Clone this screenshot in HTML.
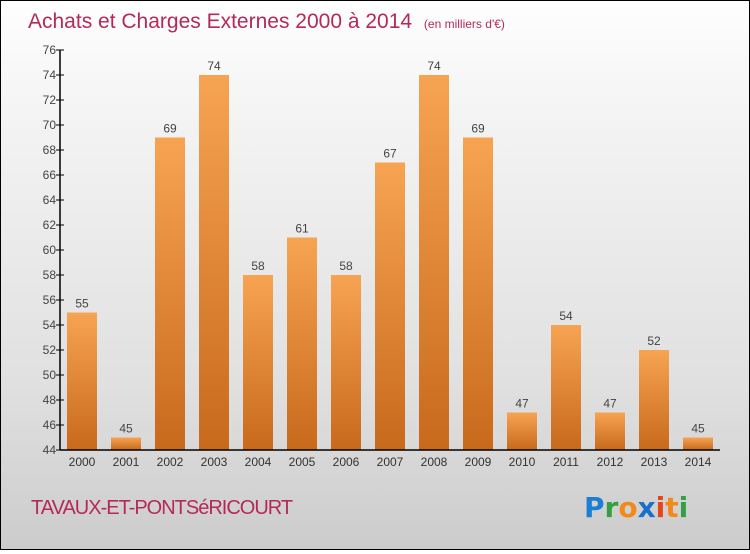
<!DOCTYPE html>
<html><head><meta charset="utf-8"><style>
html,body{margin:0;padding:0}
body{width:750px;height:550px;overflow:hidden;font-family:"Liberation Sans",sans-serif}
#wrap{position:absolute;left:0;top:0;width:748px;height:548px;border:1px solid #000;background:linear-gradient(#fefefe,#f4f4f4 20%,#e0e0e0 70%,#cccccc)}
</style></head><body>
<div id="wrap">
<svg id="svg" width="748" height="548" xmlns="http://www.w3.org/2000/svg">
<defs>
<linearGradient id="bg" x1="0" y1="0" x2="0" y2="1"><stop offset="0" stop-color="#f7a452"/><stop offset="1" stop-color="#c8691c"/></linearGradient>
</defs>
<text x="27" y="27" font-size="21" fill="#b5295a">Achats et Charges Externes 2000 à 2014 <tspan font-size="12" dx="6">(en milliers d'€)</tspan></text>
<g id="plot"></g>
<text x="30" y="513" font-size="20" fill="#b5295a" letter-spacing="-1">TAVAUX-ET-PONTSéRICOURT</text>
<g font-size="28" font-weight="bold" font-family="'DejaVu Sans',sans-serif">
<text x="583" y="516"><tspan fill="#1a7fd4">P</tspan><tspan fill="#33a043">r</tspan><tspan fill="#f28a1a">o</tspan><tspan fill="#1a6fc8">x</tspan><tspan fill="#e8441a">i</tspan><tspan fill="#f28a1a">t</tspan><tspan fill="#33a043">i</tspan></text>
</g>
</svg></div>
<script>
const years=["2000","2001","2002","2003","2004","2005","2006","2007","2008","2009","2010","2011","2012","2013","2014"];
const values=[55,45,69,74,58,61,58,67,74,69,47,54,47,52,45];
const yTicks=[44,46,48,50,52,54,56,58,60,62,64,66,68,70,72,74,76];
const NS="http://www.w3.org/2000/svg";
const g=document.getElementById('plot');
const x0=59,band=44,yMin=44,yMax=76,yTop=49,yBot=449;
const y=v=>yBot-(v-yMin)/(yMax-yMin)*(yBot-yTop);
function mk(t,a){const e=document.createElementNS(NS,t);for(const k in a)e.setAttribute(k,a[k]);g.appendChild(e);return e;}
values.forEach((v,i)=>{
 const cx=x0+band*i+band/2;
 const r=mk('rect',{x:cx-15,y:y(v),width:30,height:yBot-y(v),fill:'url(#bg)'});
 
 
 const t=mk('text',{x:cx,y:y(v)-5,'text-anchor':'middle','font-size':12,fill:'#444'});
 t.textContent=v;
 
 
 const xl=mk('text',{x:cx,y:yBot+16,'text-anchor':'middle','font-size':12,fill:'#333'});
 xl.textContent=years[i];
 
 
});
yTicks.forEach(v=>{
 const l=mk('line',{x1:x0-4,x2:x0+4,y1:y(v),y2:y(v),stroke:'#000'});
 
 
 const t=mk('text',{x:x0-4,y:y(v)+4,'text-anchor':'end','font-size':12,fill:'#444'});
 t.textContent=v;
 
 
});
const ya=mk('line',{x1:x0,x2:x0,y1:yTop,y2:yBot,stroke:'#000','stroke-width':1.5});


const xa=mk('line',{x1:x0,x2:x0+band*15,y1:yBot,y2:yBot,stroke:'#000','stroke-width':1.5});


</script>
</body></html>
